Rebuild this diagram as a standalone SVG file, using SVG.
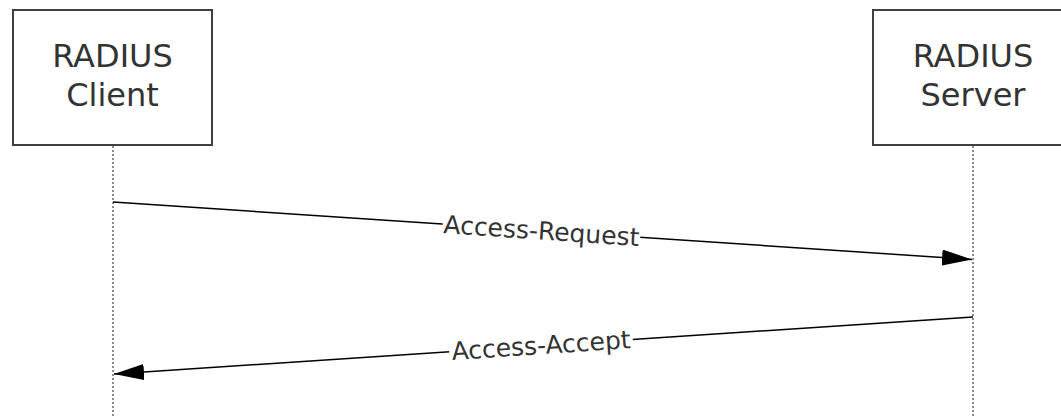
<svg xmlns="http://www.w3.org/2000/svg" width="1061" height="417" viewBox="0 0 1061 417">
<style>
.box{fill:#fff;stroke:#404040;stroke-width:2}
.nt{font-family:"DejaVu Sans",Verdana,sans-serif;font-size:32px;fill:#333;text-anchor:middle}
.life{stroke:#8c8c8c;stroke-width:2;stroke-dasharray:2 2;fill:none}
.msg{stroke:#000;stroke-width:1.5;fill:none}
.lt{font-family:"DejaVu Sans",Verdana,sans-serif;font-size:25px;fill:#333;text-anchor:middle;dominant-baseline:central}
</style>
<defs>
<marker id="ah" viewBox="0 0 30 16" refX="30" refY="8" markerWidth="30" markerHeight="16" markerUnits="userSpaceOnUse" orient="auto">
<path d="M0,0 L30,8 L0,16 Z" fill="#000"/>
</marker>
</defs>
<g id="client">
<rect class="box" x="13" y="10" width="199" height="135"/>
<text class="nt" x="112.5" y="67">RADIUS</text>
<text class="nt" x="112.5" y="106">Client</text>
</g>
<g id="server">
<rect class="box" x="873" y="10" width="199" height="135"/>
<text class="nt" x="973" y="67">RADIUS</text>
<text class="nt" x="973" y="106">Server</text>
</g>
<g id="connectors">
<line class="life" x1="113" y1="146" x2="113" y2="417"/>
<line class="life" x1="973" y1="146" x2="973" y2="417"/>
<line class="msg" x1="113" y1="202" x2="972" y2="259.5" marker-end="url(#ah)"/>
<line class="msg" x1="973" y1="317" x2="114" y2="374" marker-end="url(#ah)"/>
<g transform="translate(541.5,231) rotate(3.86)">
<rect x="-99" y="-12" width="198" height="24" fill="#fff"/>
<text class="lt" x="0" y="0">Access-Request</text>
</g>
<g transform="translate(541,345.6) rotate(-3.79)">
<rect x="-92" y="-12" width="184" height="24" fill="#fff"/>
<text class="lt" x="0" y="0">Access-Accept</text>
</g>
</g>
</svg>
